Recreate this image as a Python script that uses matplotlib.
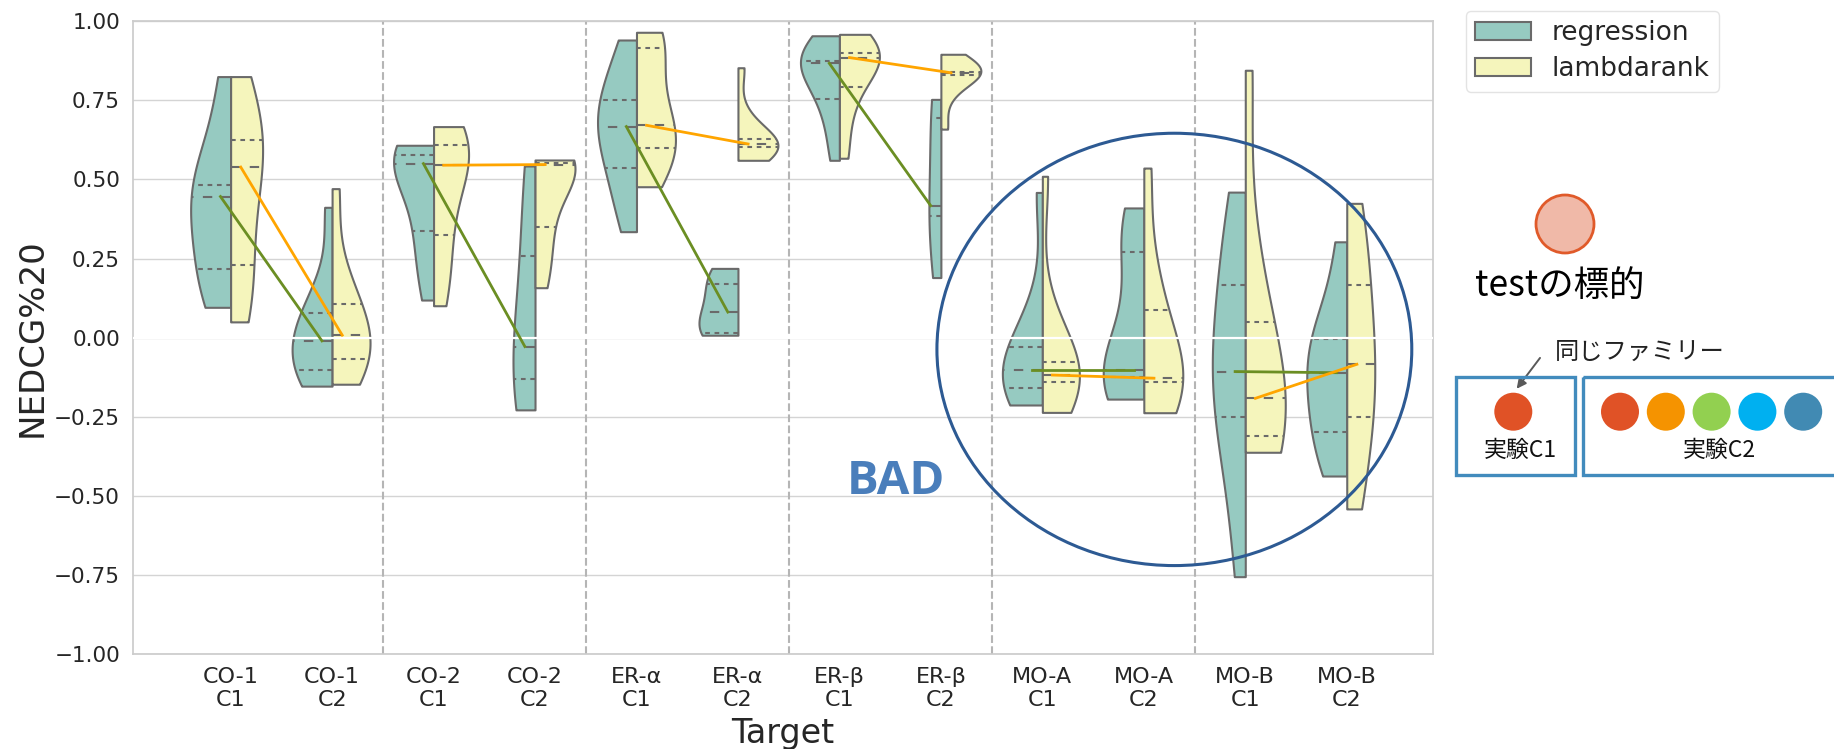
import numpy as np
import matplotlib
matplotlib.use("Agg")
import matplotlib.pyplot as plt
from matplotlib.mlab import GaussianKDE
from matplotlib.patches import Ellipse, Circle, Rectangle, Patch, FancyArrowPatch

# ---------------------------------------------------------------- data
targets = ["CO-1", "CO-2", "ER-α", "ER-β", "MO-A", "MO-B"]
experiments = ["C1", "C2"]
tick_labels = [f"{t}\n{e}" for t in targets for e in experiments]
methods = ["regression", "lambdarank"]

# NEDCG%20 per target/experiment (order follows tick_labels)
regression_scores = [
    [0.096, 0.15, 0.218, 0.33, 0.446, 0.46, 0.483, 0.62, 0.825],
    [-0.153, -0.13, -0.103, -0.05, -0.010, 0.03, 0.077, 0.15, 0.412],
    [0.119, 0.25, 0.336, 0.45, 0.550, 0.565, 0.578, 0.595, 0.608],
    [-0.228, -0.130, -0.028, 0.258, 0.5425],
    [0.335, 0.45, 0.535, 0.62, 0.667, 0.71, 0.751, 0.84, 0.9406],
    [0.0076, 0.014, 0.081, 0.170, 0.219],
    [0.5605, 0.68, 0.755, 0.82, 0.867, 0.87, 0.875, 0.92, 0.954],
    [0.190, 0.385, 0.417, 0.693, 0.753],
    [-0.2126, -0.18, -0.158, -0.13, -0.102, -0.07, -0.028, 0.08, 0.459],
    [-0.194, -0.16, -0.125, -0.115, -0.102, 0.05, 0.270, 0.33, 0.410],
    [-0.755, -0.45, -0.250, -0.17, -0.107, -0.02, 0.1675, 0.30, 0.460],
    [-0.437, -0.36, -0.298, -0.20, -0.1106, -0.06, -0.004, 0.06, 0.303],
]
lambdarank_scores = [
    [0.05, 0.14, 0.229, 0.40, 0.539, 0.58, 0.625, 0.72, 0.825],
    [-0.147, -0.11, -0.066, -0.03, 0.008, 0.05, 0.107, 0.20, 0.471],
    [0.101, 0.22, 0.325, 0.45, 0.545, 0.58, 0.608, 0.64, 0.667],
    [0.158, 0.26, 0.351, 0.45, 0.547, 0.55, 0.553, 0.557, 0.5615],
    [0.477, 0.55, 0.598, 0.64, 0.671, 0.75, 0.914, 0.94, 0.965],
    [0.5605, 0.58, 0.603, 0.608, 0.612, 0.62, 0.628, 0.70, 0.853],
    [0.567, 0.70, 0.792, 0.85, 0.885, 0.89, 0.899, 0.93, 0.9585],
    [0.659, 0.76, 0.830, 0.834, 0.837, 0.838, 0.840, 0.87, 0.8955],
    [-0.236, -0.17, -0.139, -0.125, -0.118, -0.10, -0.078, 0.05, 0.510],
    [-0.237, -0.19, -0.139, -0.133, -0.128, -0.05, 0.0885, 0.20, 0.536],
    [-0.362, -0.34, -0.3096, -0.25, -0.1915, -0.10, 0.0487, 0.25, 0.845],
    [-0.541, -0.40, -0.2505, -0.16, -0.084, 0.02, 0.1665, 0.30, 0.4245],
]

# maximum half-violin widths (x units)
regression_width = [0.394, 0.394, 0.394, 0.217, 0.384, 0.384, 0.384, 0.118, 0.394, 0.40, 0.325, 0.394]
lambdarank_width = [0.315, 0.374, 0.345, 0.394, 0.384, 0.394, 0.394, 0.394, 0.365, 0.384, 0.394, 0.276]

# ---------------------------------------------------------------- style
W, H = 1834, 749
TEAL = "#96cac1"
YELLOW = "#f5f5bc"
EDGE = "#6a6a6a"
GRID = "#d4d4d4"
TEXT = "#262626"
LW = 1.5

fig = plt.figure(figsize=(W / 100, H / 100), dpi=100)
ax = fig.add_axes([132.5 / W, 1 - 654.2 / H, (1433.5 - 132.5) / W, (654.2 - 21.2) / H])
ax.set_facecolor("white")
for s in ax.spines.values():
    s.set_color("#cccccc")
    s.set_linewidth(1.25)
ax.set_axisbelow(True)
ax.yaxis.grid(True, color=GRID, lw=1.0, zorder=0)
ax.xaxis.grid(False)


def half_violin(pos, values, half_width, side, color):
    values = np.asarray(values, dtype=float)
    kde = GaussianKDE(values, "scott")
    ys = np.linspace(values.min(), values.max(), 300)
    dens = kde.evaluate(ys)
    dens = dens / dens.max() * half_width
    sign = -1 if side == "left" else 1
    ax.fill_betweenx(ys, pos, pos + sign * dens, facecolor=color,
                     edgecolor=EDGE, lw=LW, zorder=2)
    q1, q2, q3 = np.percentile(values, [25, 50, 75])
    for q, dash in ((q1, [LW * 1.5] * 2), (q2, [LW * 3] * 2), (q3, [LW * 1.5] * 2)):
        w = np.interp(q, ys, dens)
        ax.plot([pos, pos + sign * w], [q, q], color=EDGE, lw=LW,
                dashes=dash, zorder=3, solid_capstyle="butt", dash_capstyle="butt")


positions = np.arange(len(tick_labels))
for i, pos in enumerate(positions):
    half_violin(pos, regression_scores[i], regression_width[i], "left", TEAL)
    half_violin(pos, lambdarank_scores[i], lambdarank_width[i], "right", YELLOW)

# zero reference line
ax.axhline(0, color="white", lw=1.6, zorder=3.5)

# target separators
for sep in np.arange(1.5, len(tick_labels) - 1, 2):
    ax.axvline(sep, color="#b5b5b5", lw=1.5, ls="--", zorder=1)

# medians of C1 -> C2 for each target
for t in range(len(targets)):
    a, b = 2 * t, 2 * t + 1
    ax.plot([positions[a] - 0.1, positions[b] - 0.1],
            [np.median(regression_scores[a]), np.median(regression_scores[b])],
            color="olivedrab", lw=2.0, zorder=4)
for t in range(len(targets)):
    a, b = 2 * t, 2 * t + 1
    ax.plot([positions[a] + 0.1, positions[b] + 0.1],
            [np.median(lambdarank_scores[a]), np.median(lambdarank_scores[b])],
            color="orange", lw=2.0, zorder=4.5)

ax.set_xlim(-0.967, 11.855)
ax.set_ylim(-1.0, 1.0)
ax.set_yticks(np.arange(-1.0, 1.01, 0.25))
ax.set_yticklabels([f"{v:.2f}".replace("-", "\u2212") for v in np.arange(-1.0, 1.01, 0.25)])
ax.set_xticks(positions)
ax.set_xticklabels(tick_labels)
ax.tick_params(axis="both", length=0, colors=TEXT, pad=9)
ax.tick_params(axis="x", labelsize=16)
ax.tick_params(axis="y", labelsize=15.5)
ax.set_xlabel("Target", fontsize=24, color=TEXT, labelpad=5)
ax.set_ylabel("NEDCG%20", fontsize=24.5, color=TEXT, labelpad=4)

# legend
handles = [Patch(facecolor=TEAL, edgecolor=EDGE, lw=LW, label=methods[0]),
           Patch(facecolor=YELLOW, edgecolor=EDGE, lw=LW, label=methods[1])]
leg = fig.legend(handles=handles, loc="upper left",
                 bbox_to_anchor=(1466 / W, 1 - 11 / H), borderaxespad=0,
                 fontsize=19, frameon=True, fancybox=True, handlelength=2.1,
                 handleheight=0.7, labelspacing=0.38, borderpad=0.35,
                 handletextpad=0.8)
leg.get_frame().set_edgecolor("#dddddd")
leg.get_frame().set_linewidth(1.0)
for txt in leg.get_texts():
    txt.set_color(TEXT)

# highlighted poor region
ax.add_patch(Ellipse((9.301, -0.037), 4.68, 1.366, fill=False,
                     edgecolor="#2d5a93", lw=2.2, zorder=6, clip_on=False))
ax.text(6.554, -0.455, "BAD", fontsize=34, fontweight="bold", family="Open Sans",
        color="#4a7ebb", ha="center", va="center", zorder=6)

# side notes (pixel space)
ov = fig.add_axes([0, 0, 1, 1], facecolor="none")
ov.set_xlim(0, W)
ov.set_ylim(H, 0)
ov.axis("off")
cjk = ["Noto Sans CJK JP", "DejaVu Sans"]

ov.add_patch(Circle((1565, 224), 29, facecolor="#f0b9a8", edgecolor="#e05a2a", lw=2.0))
ov.text(1475, 296, "testの標的", fontsize=25.5, family=cjk, color="black",
        ha="left", va="baseline")
ov.text(1555, 352, "同じファミリー", fontsize=17.5, family=cjk, color="#222222",
        ha="left", va="center")
ov.add_patch(FancyArrowPatch((1541.7, 355.7), (1515, 391), arrowstyle="-|>",
                             mutation_scale=14, color="#595959", lw=1.4))

BOX = "#428bbd"
ov.add_patch(Rectangle((1456, 376.7), 119, 98, fill=False, edgecolor=BOX, lw=2.4))
ov.add_patch(Rectangle((1583.3, 376.7), 300, 98, fill=False, edgecolor=BOX, lw=2.4,
                       clip_on=False))
ov.add_patch(Circle((1513.3, 411.7), 19, color="#e05226", lw=0))
family_colors = ["#e05226", "#f59300", "#92d050", "#00b0f0", "#418ab3"]
for k, c in enumerate(family_colors):
    ov.add_patch(Circle((1620 + 45.8 * k, 411.7), 19, color=c, lw=0))
ov.text(1520, 450, "実験C1", fontsize=16.5, family=cjk, color="#111111",
        ha="center", va="center")
ov.text(1719.3, 450, "実験C2", fontsize=16.5, family=cjk, color="#111111",
        ha="center", va="center")

fig.savefig("out.png", dpi=100, facecolor="white")
